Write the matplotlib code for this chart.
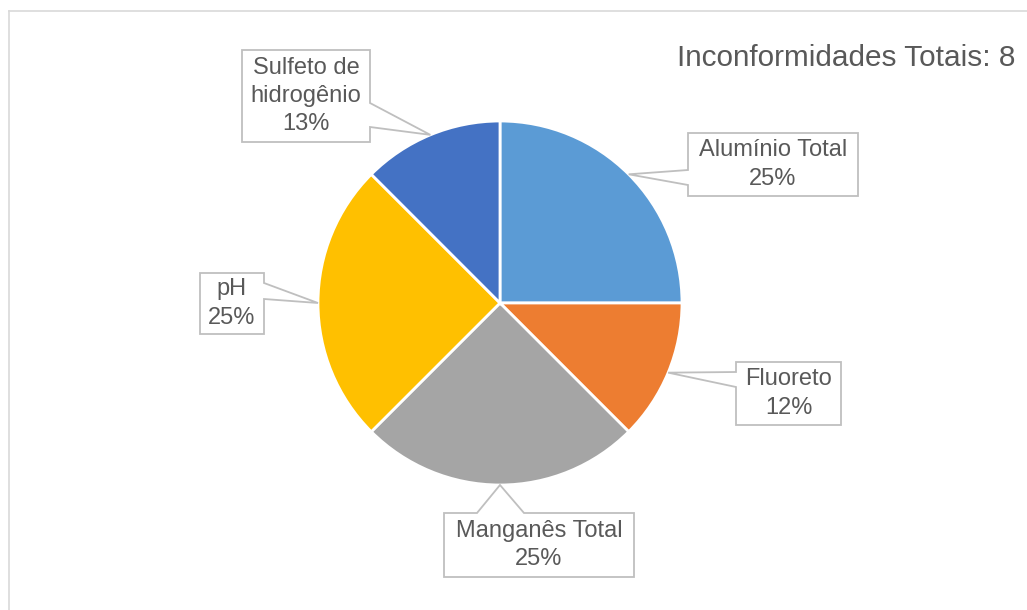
import numpy as np
import matplotlib
matplotlib.use("Agg")
import matplotlib.pyplot as plt
from matplotlib.patches import Polygon

plt.rcParams['font.family'] = ['Liberation Sans', 'DejaVu Sans']

categories = ["Alumínio Total", "Fluoreto", "Manganês Total", "pH", "Sulfeto de\nhidrogênio"]
counts = [2, 1, 2, 2, 1]
pct_labels = ["25%", "12%", "25%", "25%", "13%"]
colors = ["#5B9BD5", "#ED7D31", "#A5A5A5", "#FFC000", "#4472C4"]
title = "Inconformidades Totais: 8"

W, H = 1027, 610
fig = plt.figure(figsize=(W / 100, H / 100), dpi=100)
ax = fig.add_axes([0, 0, 1, 1])
ax.set_xlim(0, W)
ax.set_ylim(0, H)
ax.set_aspect('equal')
ax.axis('off')

def Y(y):
    return H - y

# frame
ax.plot([9, W], [Y(11), Y(11)], color="#d9d9d9", lw=1.2, zorder=1)
ax.plot([9, 9], [Y(11), 0], color="#d9d9d9", lw=1.2, zorder=1)

cx, cy, r = 500, 303, 182
wedges, _ = ax.pie(counts, colors=colors, startangle=90, counterclock=False,
                   center=(cx, Y(cy)), radius=r, frame=True,
                   wedgeprops=dict(edgecolor="white", linewidth=2))
ax.set_xlim(0, W)
ax.set_ylim(0, H)
ax.axis('off')

# callout boxes (image pixel coords): x0, y0, x1, y1, side, base0, base1
boxes = [
    (688, 133, 858, 196, 'left', 170, 185),
    (736, 362, 841, 425, 'left', 372, 387),
    (444, 513, 634, 577, 'top', 477, 524),
    (200, 273, 264, 334, 'right', 283, 299),
    (242, 50, 370, 142, 'right', 103, 127),
]

for w, cat, pct, (x0, y0, x1, y1, side, b0, b1) in zip(wedges, categories, pct_labels, boxes):
    ang = np.deg2rad((w.theta1 + w.theta2) / 2)
    tx = w.center[0] + w.r * np.cos(ang)
    ty = w.center[1] + w.r * np.sin(ang)
    if side == 'left':
        pts = [(x0, y0), (x1, y0), (x1, y1), (x0, y1), (x0, b1), None, (x0, b0)]
    elif side == 'right':
        pts = [(x0, y0), (x1, y0), (x1, b0), None, (x1, b1), (x1, y1), (x0, y1)]
    else:
        pts = [(x0, y0), (b0, y0), None, (b1, y0), (x1, y0), (x1, y1), (x0, y1)]
    verts = [(tx, ty) if p is None else (p[0], Y(p[1])) for p in pts]
    ax.add_patch(Polygon(verts, closed=True, facecolor="white", edgecolor="#bfbfbf",
                         lw=1.3, zorder=5))
    ax.text((x0 + x1) / 2, Y((y0 + y1) / 2), f"{cat}\n{pct}", ha='center', va='center',
            multialignment='center', fontsize=17, color="#595959", zorder=6,
            linespacing=1.36)

ax.text(1015, Y(58), title, ha='right', va='center', fontsize=21.4, color="#595959")

fig.savefig("out.png", dpi=100)
